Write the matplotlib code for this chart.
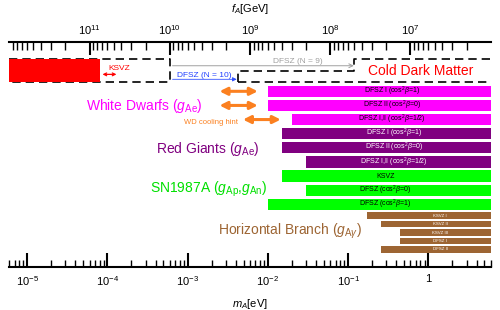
import matplotlib
matplotlib.use("Agg")
import matplotlib.pyplot as plt
import numpy as np
from matplotlib.ticker import FixedLocator, LogLocator, NullFormatter

plt.rcParams["font.family"] = ["Liberation Sans", "DejaVu Sans"]
plt.rcParams["mathtext.fontset"] = "custom"
plt.rcParams["mathtext.rm"] = "Liberation Sans"
plt.rcParams["mathtext.it"] = "Liberation Sans:italic"
plt.rcParams["mathtext.bf"] = "Liberation Sans:bold"

# axion mass range shown [eV], and f_A * m_A [GeV eV]
M_MIN, M_MAX = 6e-6, 6.0
FA_MA = 6e6

# lower end of the excluded m_A range [eV], one per row
WD_LABELS = [r"DFSZ I (cos$^2\beta$=1)", r"DFSZ II (cos$^2\beta$=0)",
             r"DFSZ I,II (cos$^2\beta$=1/2)"]
WD_MIN = [0.01, 0.01, 0.02]
RG_LABELS = WD_LABELS
RG_MIN = [0.015, 0.015, 0.03]
SN_LABELS = ["KSVZ", r"DFSZ (cos$^2\beta$=0)", r"DFSZ (cos$^2\beta$=1)"]
SN_MIN = [0.015, 0.03, 0.01]
HB_LABELS = ["KSVZ I", "KSVZ II", "KSVZ III", "DFSZ I", "DFSZ II"]
HB_MIN = [0.17, 0.26, 0.45, 0.45, 0.26]

# white dwarf cooling hint ranges [eV]
HINT_LO = [2.5e-3, 2.5e-3, 4.9e-3]
HINT_HI = [7.5e-3, 7.5e-3, 0.0145]

# cold dark matter region [eV]
CDM_KSVZ_MAX = 8.2e-5
CDM_BOX_MAX = 6.1e-4
CDM_N10_MIN = 4.3e-3
CDM_N9_MIN = 0.118
KSVZ_ARROW = [8.7e-5, 1.3e-4]
N9_ARROW = [6.5e-4, 0.118]
N10_ARROW = [6.5e-4, 4.1e-3]

MAJOR = [1e-5, 1e-4, 1e-3, 1e-2, 1e-1, 1.0]
MAJOR_LABELS = [r"$10^{-5}$", r"$10^{-4}$", r"$10^{-3}$", r"$10^{-2}$",
                r"$10^{-1}$", "1"]
FA_MAJOR = [1e11, 1e10, 1e9, 1e8, 1e7]
FA_LABELS = [r"$10^{11}$", r"$10^{10}$", r"$10^{9}$", r"$10^{8}$", r"$10^{7}$"]

MAGENTA = "#ff00ff"
PURPLE = "#800080"
GREEN = "#00ff00"
BROWN = "#9d6533"
ORANGE = "#fb8020"
BAR_END = 50.0


def draw_group(ax, ys, mins, labels, color, tcolor, h, fs, xtext):
    ax.barh(ys, [BAR_END - m for m in mins], left=mins, height=h,
            color=color, linewidth=0, zorder=2)
    for y, lab in zip(ys, labels):
        ax.text(xtext, y, lab, ha="center", va="center", fontsize=fs,
                color=tcolor, zorder=3)


fig = plt.figure(figsize=(5.0, 3.1), dpi=100)
ax = fig.add_axes([9.3 / 500, 43.0 / 310, 481.4 / 500, 224.7 / 310])
ax.set_xscale("log")
ax.set_xlim(M_MIN, M_MAX)
ax.set_ylim(15.91, 0)

# rows, in units of the main bar pitch from the top axis line
main_y = 3.47 + np.arange(9)
hb_y = 12.28 + 0.594 * np.arange(5)

draw_group(ax, main_y[0:3], WD_MIN, WD_LABELS, MAGENTA, "black", 0.8, 5, 0.35)
draw_group(ax, main_y[3:6], RG_MIN, RG_LABELS, PURPLE, "white", 0.8, 5, 0.37)
draw_group(ax, main_y[6:9], SN_MIN, SN_LABELS, GREEN, "black", 0.8, 5, 0.29)
draw_group(ax, hb_y, HB_MIN, HB_LABELS, BROWN, "white", 0.47, 3.2, 1.4)

# WD cooling hint arrows
for y, lo, hi in zip(main_y[0:3], HINT_LO, HINT_HI):
    ax.annotate("", xy=(hi, y), xytext=(lo, y),
                arrowprops=dict(arrowstyle="<|-|>", color=ORANGE, lw=2.2,
                                mutation_scale=11, shrinkA=0, shrinkB=0))

# cold dark matter region
top, bot, step = 1.20, 2.78, 2.01
dash = dict(color="black", lw=1.2, ls=(0, (5, 3)), zorder=2, clip_on=False)
ax.plot([M_MIN, CDM_BOX_MAX, CDM_BOX_MAX, M_MIN], [top, top, bot, bot], **dash)
ax.plot([CDM_N10_MIN, CDM_N10_MIN, CDM_N9_MIN, CDM_N9_MIN, M_MAX],
        [bot, step, step, top, top], **dash)
ax.plot([CDM_N10_MIN, M_MAX], [bot, bot], **dash)
ax.fill_between([M_MIN, CDM_KSVZ_MAX], top, bot, color="red", lw=0, zorder=3)

ax.annotate("", xy=(KSVZ_ARROW[1], 2.27), xytext=(KSVZ_ARROW[0], 2.27),
            arrowprops=dict(arrowstyle="<->", color="red", lw=0.9,
                            mutation_scale=5, shrinkA=0, shrinkB=0))
ax.text(1.03e-4, 1.96, "KSVZ", color="red", fontsize=6, va="baseline")
ax.annotate("", xy=(N9_ARROW[1], 1.66), xytext=(N9_ARROW[0], 1.66),
            arrowprops=dict(arrowstyle="->", color="#a0a0a0", lw=0.7,
                            mutation_scale=7, shrinkA=0, shrinkB=0))
ax.text(2.4e-2, 1.44, "DFSZ (N = 9)", color="#a0a0a0", fontsize=6,
        ha="center", va="baseline")
ax.annotate("", xy=(N10_ARROW[1], 2.62), xytext=(N10_ARROW[0], 2.62),
            arrowprops=dict(arrowstyle="-|>", color="#3050ff", lw=0.6,
                            mutation_scale=6, shrinkA=0, shrinkB=0))
ax.text(1.6e-3, 2.43, "DFSZ (N = 10)", color="#2040ff", fontsize=6,
        ha="center", va="baseline")
ax.text(0.81, 2.32, "Cold Dark Matter", color="red", fontsize=10,
        ha="center", va="baseline")

# group labels
ax.text(1.53e-3, 4.79, r"White Dwarfs ($g_\mathrm{Ae}$)", color=MAGENTA,
        fontsize=10, ha="right", va="baseline")
ax.text(4.25e-3, 5.78, "WD cooling hint", color=ORANGE, fontsize=5.5,
        ha="right", va="baseline")
ax.text(7.9e-3, 7.82, r"Red Giants ($g_\mathrm{Ae}$)", color=PURPLE,
        fontsize=10, ha="right", va="baseline")
ax.text(1.0e-2, 10.65, r"SN1987A ($g_\mathrm{Ap}$,$g_\mathrm{An}$)",
        color="#00e000", fontsize=10, ha="right", va="baseline")
ax.text(0.1475, 13.64, r"Horizontal Branch ($g_{\mathrm{A}\gamma}$)",
        color=BROWN, fontsize=10, ha="right", va="baseline")

# bottom axis: m_A
for s in ["left", "right", "top"]:
    ax.spines[s].set_visible(False)
ax.spines["bottom"].set_linewidth(1.5)
ax.set_yticks([])
ax.xaxis.set_major_locator(FixedLocator(MAJOR))
ax.set_xticklabels(MAJOR_LABELS)
ax.xaxis.set_minor_locator(LogLocator(base=10, subs=np.arange(2, 10), numticks=20))
ax.xaxis.set_minor_formatter(NullFormatter())
ax.tick_params(axis="x", which="major", direction="in", length=10, width=1.5,
               labelsize=8, pad=5)
ax.tick_params(axis="x", which="minor", direction="in", length=5, width=1.0)
ax.set_xlabel(r"$m_A$[eV]", fontsize=8, labelpad=7)

# top axis: f_A = FA_MA / m_A
ax2 = ax.twiny()
ax2.set_xscale("log")
ax2.set_xlim(FA_MA / M_MIN, FA_MA / M_MAX)
for s in ["left", "right", "bottom"]:
    ax2.spines[s].set_visible(False)
ax2.spines["top"].set_linewidth(1.5)
ax2.xaxis.set_major_locator(FixedLocator(FA_MAJOR))
ax2.set_xticklabels(FA_LABELS)
ax2.xaxis.set_minor_locator(LogLocator(base=10, subs=np.arange(2, 10), numticks=20))
ax2.xaxis.set_minor_formatter(NullFormatter())
ax2.tick_params(axis="x", which="major", direction="in", length=9.5, width=1.5,
                labelsize=8, pad=4)
ax2.tick_params(axis="x", which="minor", direction="in", length=5.5, width=1.0)
ax2.set_xlabel(r"$f_A$[GeV]", fontsize=8, labelpad=8)

fig.savefig("out.png", dpi=100)
